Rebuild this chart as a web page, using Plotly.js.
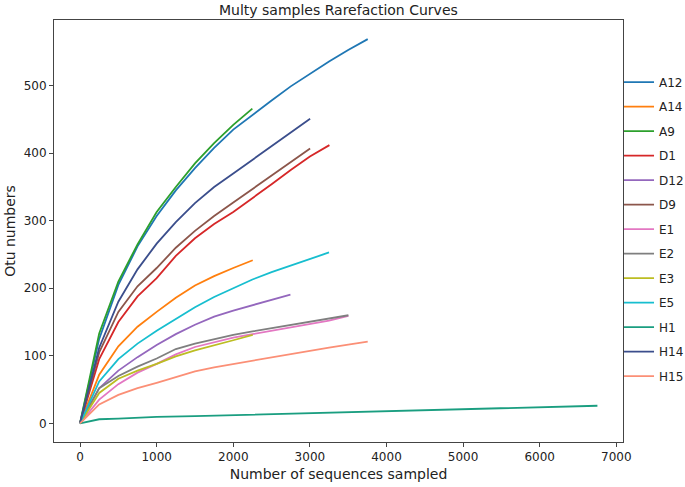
<!DOCTYPE html>
<html>
<head>
<meta charset="utf-8">
<script src="https://cdn.plot.ly/plotly-3.0.1.min.js"></script>
<style>html,body{margin:0;padding:0;background:#fff;}#chart{width:685px;height:487px;}</style>
</head>
<body>
<div id="chart"></div>
<script>
// Sample names (legend order)
const sampleNames = ["A12","A14","A9","D1","D12","D9","E1","E2","E3","E5","H1","H14","H15"];
const sampleColors = ["#1f77b4","#ff7f0e","#2ca02c","#d62728","#9467bd","#8c564b","#e377c2","#7f7f7f","#bcbd22","#17becf","#1a9e80","#3b4e8c","#fb8f76"];

// Sequences sampled (x) and OTU numbers (y) for each sample
const A12_x = [0,250,500,750,1000,1250,1500,1750,2000,2250,2500,2750,3000,3250,3500,3755];
const A12_y = [0,125,205,262,307,345,378,408,435,457,478,499,518,536,553,569];
const A14_x = [0,250,500,750,1000,1250,1500,1750,2000,2254];
const A14_y = [0,72,114,143,165,186,204,218,230,241.5];
const A9_x  = [0,250,500,750,1000,1250,1500,1750,2000,2249];
const A9_y  = [0,133,210,265,313,350,385,415,442,466];
const D1_x  = [0,250,500,750,1000,1250,1500,1750,2000,2250,2500,2750,3000,3255];
const D1_y  = [0,95,150,188,215,248,274,295,313,333,354,375,395,412];
const D12_x = [0,250,500,750,1000,1250,1500,1750,2000,2250,2500,2746];
const D12_y = [0,52,78,98,116,132,146,158,167,175,183,190.5];
const D9_x  = [0,250,500,750,1000,1250,1500,1750,2000,2250,2500,2750,3003];
const D9_y  = [0,105,165,203,230,260,285,307,327,347,366,386,407];
const E1_x  = [0,250,500,750,1000,1250,1500,1750,2000,2250,2500,2750,3000,3250,3503];
const E1_y  = [0,35,58,75,88,102,113,120,127,132,137,142,147,152,159];
const E2_x  = [0,250,500,750,1000,1250,1500,1750,2000,2250,2500,2750,3000,3250,3503];
const E2_y  = [0,52,70,84,96,110,118,125,131,136,141,146,150,155,160];
const E3_x  = [0,250,500,750,1000,1250,1500,1750,2000,2254];
const E3_y  = [0,45,66,78,88,99,108,116,123,131];
const E5_x  = [0,250,500,750,1000,1250,1500,1750,2000,2250,2500,2750,3000,3250];
const E5_y  = [0,62,95,118,137,155,172,187,200,213,224,234,244,253];
const H1_x  = [0,250,500,1000,1500,2000,2500,3000,3500,4000,4500,5000,5500,6000,6500,6753];
const H1_y  = [0,6,7,9.5,10.5,12,13,15,16,18,19.5,21,22,24,25,26];
const H14_x = [0,250,500,750,1000,1250,1500,1750,2000,2250,2500,2750,3003];
const H14_y = [0,112,180,228,266,298,326,350,370,390,410,431,451];
const H15_x = [0,250,500,750,1000,1250,1500,1750,2000,2250,2500,2750,3000,3250,3500,3755];
const H15_y = [0,28,42,52,60,69,77,83,88,93,97,102,107,112,116.5,121];

const xTicks = [0,1000,2000,3000,4000,5000,6000,7000];
const yTicks = [0,100,200,300,400,500];

const seriesX = [A12_x,A14_x,A9_x,D1_x,D12_x,D9_x,E1_x,E2_x,E3_x,E5_x,H1_x,H14_x,H15_x];
const seriesY = [A12_y,A14_y,A9_y,D1_y,D12_y,D9_y,E1_y,E2_y,E3_y,E5_y,H1_y,H14_y,H15_y];

const traces = sampleNames.map((n,i)=>({
  type:'scatter', mode:'lines', name:n, legendgroup:n,
  x: seriesX[i], y: seriesY[i],
  line:{color:sampleColors[i], width:1.8}
}));

const FONT = "DejaVu Sans, sans-serif";
const layout = {
  width:685, height:487,
  margin:{l:54, r:62, t:20, b:45, autoexpand:false},
  paper_bgcolor:'#fff', plot_bgcolor:'#fff',
  font:{family:FONT, size:12, color:'#222'},
  title:{text:'Multy samples Rarefaction Curves', font:{family:FONT, size:14, color:'#222'},
         x:0.494, xanchor:'center', xref:'container', y:0.979, yanchor:'middle', yref:'container'},
  showlegend:true,
  legend:{x:0.993, xanchor:'left', y:0.887, yanchor:'top', font:{family:FONT, size:12, color:'#222'},
          itemwidth:30, tracegroupgap:5.5, bgcolor:'rgba(0,0,0,0)', traceorder:'grouped'},
  xaxis:{range:[-340,7087], tickvals:xTicks, ticktext:xTicks.map(String), showgrid:false, zeroline:false,
         showline:true, mirror:true, linecolor:'#444', linewidth:1, ticks:'outside', ticklen:4, tickcolor:'#444',
         tickfont:{family:FONT, size:12, color:'#222'},
         title:{text:'Number of sequences sampled', font:{family:FONT, size:14, color:'#222'}, standoff:5}},
  yaxis:{range:[-27.7,597.3], tickvals:yTicks, ticktext:yTicks.map(String), showgrid:false, zeroline:false,
         showline:true, mirror:true, linecolor:'#444', linewidth:1, ticks:'outside', ticklen:4, tickcolor:'#444',
         tickfont:{family:FONT, size:12, color:'#222'},
         title:{text:'Otu numbers', font:{family:FONT, size:14, color:'#222'}, standoff:4}}
};

Plotly.newPlot('chart', traces, layout, {displayModeBar:false, staticPlot:true});
</script>
</body>
</html>
